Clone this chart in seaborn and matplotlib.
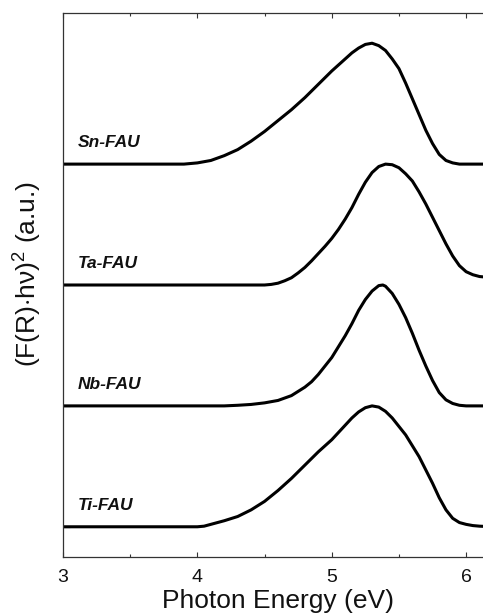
import numpy as np
import pandas as pd
import seaborn as sns
import matplotlib.pyplot as plt

# Normalised (F(R)*hv)^2 curves, one per sample
sn_energy = [3.0, 3.9, 4.0, 4.1, 4.2, 4.3, 4.4, 4.5, 4.6, 4.7, 4.8, 4.9, 5.0, 5.1,
             5.15, 5.2, 5.25, 5.3, 5.35, 5.4, 5.45, 5.5, 5.55, 5.6, 5.65, 5.7, 5.75,
             5.8, 5.85, 5.9, 5.95, 6.2]
sn_signal = [0, 0, 0.01, 0.03, 0.07, 0.12, 0.19, 0.27, 0.36, 0.45, 0.55, 0.66, 0.77,
             0.87, 0.92, 0.96, 0.99, 1.0, 0.98, 0.94, 0.87, 0.79, 0.67, 0.54, 0.41,
             0.28, 0.17, 0.08, 0.03, 0.01, 0, 0]

ta_energy = [3.0, 4.5, 4.55, 4.6, 4.65, 4.7, 4.75, 4.8, 4.85, 4.9, 4.95, 5.0, 5.05,
             5.1, 5.15, 5.2, 5.25, 5.3, 5.35, 5.4, 5.45, 5.5, 5.55, 5.6, 5.65, 5.7,
             5.75, 5.8, 5.85, 5.9, 5.95, 6.0, 6.05, 6.1, 6.2]
ta_signal = [0, 0, 0.005, 0.015, 0.035, 0.06, 0.1, 0.145, 0.2, 0.26, 0.32, 0.385,
             0.46, 0.545, 0.64, 0.75, 0.85, 0.93, 0.98, 1.0, 0.995, 0.97, 0.92, 0.86,
             0.77, 0.67, 0.56, 0.45, 0.34, 0.24, 0.16, 0.11, 0.085, 0.07, 0.06]

nb_energy = [3.0, 4.2, 4.3, 4.4, 4.5, 4.6, 4.7, 4.75, 4.8, 4.85, 4.9, 4.95, 5.0,
             5.05, 5.1, 5.15, 5.2, 5.25, 5.3, 5.35, 5.38, 5.4, 5.45, 5.5, 5.55, 5.6,
             5.65, 5.7, 5.75, 5.8, 5.85, 5.9, 5.95, 6.0, 6.2]
nb_signal = [0, 0, 0.005, 0.012, 0.025, 0.045, 0.085, 0.12, 0.155, 0.2, 0.26, 0.33,
             0.4, 0.49, 0.58, 0.68, 0.79, 0.88, 0.95, 0.995, 1.0, 0.99, 0.93, 0.84,
             0.73, 0.6, 0.46, 0.33, 0.21, 0.11, 0.05, 0.02, 0.005, 0, 0]

ti_energy = [3.0, 4.0, 4.05, 4.1, 4.2, 4.3, 4.4, 4.5, 4.6, 4.7, 4.8, 4.9, 5.0, 5.1,
             5.15, 5.2, 5.25, 5.3, 5.35, 5.4, 5.45, 5.5, 5.55, 5.6, 5.65, 5.7, 5.75,
             5.8, 5.85, 5.9, 5.95, 6.0, 6.05, 6.1, 6.2]
ti_signal = [0, 0, 0.005, 0.02, 0.05, 0.085, 0.14, 0.21, 0.3, 0.4, 0.51, 0.62, 0.72,
             0.84, 0.9, 0.95, 0.985, 1.0, 0.99, 0.955, 0.9, 0.83, 0.76, 0.67, 0.58,
             0.47, 0.36, 0.24, 0.14, 0.07, 0.035, 0.02, 0.01, 0.005, 0]

samples = ["Ti-FAU", "Nb-FAU", "Ta-FAU", "Sn-FAU"]
curves = {
    "Ti-FAU": (ti_energy, ti_signal),
    "Nb-FAU": (nb_energy, nb_signal),
    "Ta-FAU": (ta_energy, ta_signal),
    "Sn-FAU": (sn_energy, sn_signal),
}

# Stack the spectra with a vertical offset of 1 between them
frames = []
for i, name in enumerate(samples):
    e, s = curves[name]
    frames.append(pd.DataFrame({"energy": e, "signal": np.array(s) + i, "sample": name}))
df = pd.concat(frames, ignore_index=True)

sns.set_theme(style="ticks")
plt.rcParams["font.family"] = ["Liberation Sans", "DejaVu Sans"]
plt.rcParams["mathtext.fontset"] = "custom"
plt.rcParams["mathtext.rm"] = "Liberation Sans"

fig = plt.figure(figsize=(4.83, 6.14), dpi=100)
# axes run past the right edge of the figure, as in the cropped original
ax = fig.add_axes([63 / 483, 1 - 557 / 614, 430 / 483, 544 / 614])

for name in samples:
    sns.lineplot(data=df[df["sample"] == name], x="energy", y="signal",
                 color="black", linewidth=2.2, estimator=None, sort=False,
                 legend=False, ax=ax)

for i, name in enumerate(samples):
    ax.text(3.11, i + 0.14, name, fontsize=12.5, fontweight="bold",
            fontstyle="italic", color="#111111")

ax.set_xlim(3, 6.2)
ax.set_ylim(-0.25, 4.25)
ax.set_xticks([3, 4, 5, 6])
ax.set_xticks([3.5, 4.5, 5.5], minor=True)
ax.set_yticks([0, 1, 2, 3])
ax.set_yticklabels([])

for side in ["left", "bottom", "top", "right"]:
    ax.spines[side].set_color("#333333")
    ax.spines[side].set_linewidth(0.9)

ax.tick_params(axis="x", which="major", direction="in", top=True, length=3.8,
               width=0.8, pad=9, labelsize=14, colors="#333333", labelcolor="#111111")
ax.tick_params(axis="x", which="minor", direction="in", top=True, length=2.4,
               width=0.8, colors="#333333")
ax.tick_params(axis="y", which="major", direction="in", length=5, width=0.8,
               colors="#333333")

ax.set_xlabel("Photon Energy (eV)", fontsize=19, labelpad=2, color="#111111")
ax.set_ylabel("(F(R)$\\cdot$h\u03bd)$^2$ (a.u.)", fontsize=19, color="#111111")
ax.yaxis.set_label_coords(-0.047, 0.521)

fig.savefig("out.png", dpi=100)
